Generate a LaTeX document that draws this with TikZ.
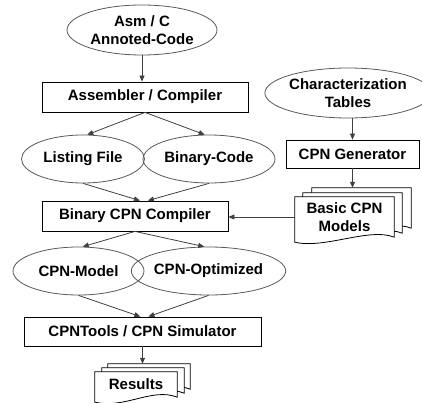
\documentclass[tikz,border=0pt]{standalone}
\usepackage{fontspec}
\setmainfont{Liberation Sans}
\usetikzlibrary{shapes.geometric,arrows.meta,calc}
\pgfdeclarelayer{background}
\pgfsetlayers{background,main}
\newcommand\mydoc[3]{%
  \path[docline] ($(#1.north west)+(#2,#3)$) -- ($(#1.north east)+(#2,#3)$) -- ($(#1.south east)+(#2,#3)$)
    .. controls ($(#1.south east)+(#2-25,#3-10)$) and ($(#1.south west)+(#2+30,#3+12)$) .. ($(#1.south west)+(#2,#3+5)$) -- cycle;}
\begin{document}
\begin{tikzpicture}[x=1pt,y=-1pt,
  every node/.style={font=\fontsize{15}{18}\selectfont\bfseries, align=center, inner sep=0pt},
  box/.style={draw=black, line width=0.8pt, rectangle, fill=white},
  ell/.style={draw=black!65, line width=0.8pt, ellipse},
  arr/.style={draw=black!75, line width=0.8pt, -{Triangle[length=6pt,width=5pt]}},
  docline/.style={draw=black, line width=0.8pt, fill=white}]
\useasboundingbox (0,0) rectangle (422,403);

\node[ell,minimum width=150pt,minimum height=50pt] (asm) at (142,30) {Asm / C\\Annoted-Code};
\node[box,minimum width=206pt,minimum height=30pt] (asmc) at (145,97) {Assembler / Compiler};
\node[ell,minimum width=123pt,minimum height=48pt] (lst) at (83,159) {Listing File};
\node[ell,minimum width=132pt,minimum height=48pt] (bin) at (209,159) {Binary-Code};
\node[box,minimum width=186pt,minimum height=30pt] (bcc) at (135,216) {Binary CPN Compiler};
\node[ell,minimum width=131pt,minimum height=48pt] (cm) at (78.5,271) {CPN-Model};
\node[ell,minimum width=131pt,minimum height=48pt] (co) at (208.5,271) {CPN-Optimized};
\node[box,minimum width=237pt,minimum height=29pt] (cpnt) at (142.5,331.5) {CPNTools / CPN Simulator};
\node (res) [minimum width=82pt,minimum height=25pt] at (136,384.5) {Results};

\node[ell,minimum width=146pt,minimum height=50pt] (ch) at (348,93) {Characterization\\Tables};
\node[box,minimum width=133pt,minimum height=28pt] (gen) at (352.5,154) {CPN Generator};
\node (bcm) [minimum width=99pt,minimum height=40pt] at (344.5,217) {Basic CPN\\Models};

\coordinate (bcmback) at ($(bcm.north)+(17,-9)$);
\coordinate (resback) at ($(res.north)+(13,-8)$);

\begin{pgfonlayer}{background}
  \mydoc{bcm}{17}{-9}
  \mydoc{bcm}{8}{-4}
  \mydoc{bcm}{0}{0}
  \mydoc{res}{13}{-8}
  \mydoc{res}{7}{-4}
  \mydoc{res}{0}{0}
\end{pgfonlayer}

\draw[arr] (asm.south) -- (asm.south |- asmc.north);
\draw[arr] (asmc.south) -- (lst.80);
\draw[arr] (asmc.south) -- (bin.100);
\draw[arr] (lst.south) -- ($(lst.east |- bcc.north)+(-5,0)$);
\draw[arr] (bin.south) -- ($(lst.east |- bcc.north)+(3,0)$);
\draw[arr] (bcc.south) -- (cm.80);
\draw[arr] (bcc.south) -- (co.100);
\draw[arr] (cm.south) -- ($(cm.east |- cpnt.north)+(-4,0)$);
\draw[arr] (co.south) -- ($(cm.east |- cpnt.north)+(4,0)$);
\draw[arr] (cpnt.south) -- (cpnt.south |- resback);
\draw[arr] (gen.north |- ch.south) -- (gen.north);
\draw[arr] (gen.south) -- (gen.south |- bcmback);
\draw[arr] (bcm.west) -- (bcm.west -| bcc.east);
\end{tikzpicture}
\end{document}
